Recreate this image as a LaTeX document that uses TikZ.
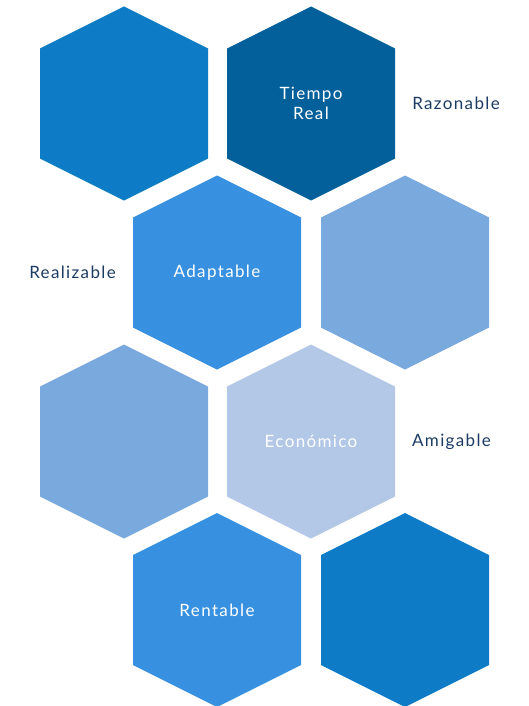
\documentclass[tikz,border=0pt]{standalone}
\usepackage{fontspec}
\newfontfamily\labfont[LetterSpace=8]{Lato}
\definecolor{hexA}{HTML}{0E7BC6}
\definecolor{hexB}{HTML}{04609A}
\definecolor{hexC}{HTML}{3791E0}
\definecolor{hexD}{HTML}{7AAADD}
\definecolor{hexE}{HTML}{B3C8E6}
\definecolor{labcol}{HTML}{1C3B64}
\newcommand\hexat[2]{\fill[#2] (#1) ++(0,-97) -- ++(84,42) -- ++(0,110) -- ++(-84,42) -- ++(-84,-42) -- ++(0,-110) -- cycle;}
\begin{document}
\begin{tikzpicture}[x=1pt,y=-1pt,
  intext/.style={text=white,font=\labfont\fontsize{17}{19.5}\selectfont,align=center,inner sep=0pt},
  outtext/.style={text=labcol,font=\labfont\fontsize{17}{19.5}\selectfont,align=center,inner sep=0pt}]
\useasboundingbox (0,0) rectangle (529,706);
\coordinate (h1) at (124,103.5);
\coordinate (h2) at (311,103.5);
\coordinate (h3) at (217,272.5);
\coordinate (h4) at (405,272.5);
\coordinate (h5) at (124,441.5);
\coordinate (h6) at (311,441.5);
\coordinate (h7) at (217,610);
\coordinate (h8) at (405,610);
\hexat{h1}{hexA}
\hexat{h2}{hexB}
\hexat{h3}{hexC}
\hexat{h4}{hexD}
\hexat{h5}{hexD}
\hexat{h6}{hexE}
\hexat{h7}{hexC}
\hexat{h8}{hexA}
\node[intext] (t2) at (h2) {Tiempo\\Real};
\node[intext] (t3) at (h3) {Adaptable};
\node[intext] (t6) at (h6) {Económico};
\node[intext] (t7) at (h7) {Rentable};
\node[outtext] (l1) at (456,103.5) {Razonable};
\node[outtext] (l2) at (72.5,272.5) {Realizable};
\node[outtext] (l3) at (451.5,441.5) {Amigable};
\end{tikzpicture}
\end{document}
